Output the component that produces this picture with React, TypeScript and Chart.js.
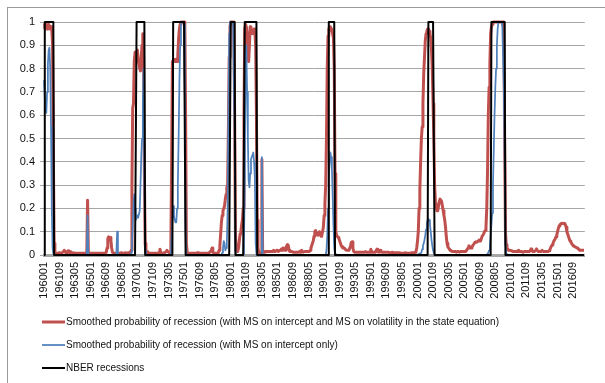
import React, { useEffect, useRef } from 'react';
import { Chart, registerables } from 'chart.js';

Chart.register(...registerables);

// Monthly categories 196001 .. 201712
const FIRST_YEAR = 1960;
const LAST_YEAR = 2017;
const MONTHS: string[] = [];
for (let y = FIRST_YEAR; y <= LAST_YEAR; y++) {
  for (let m = 1; m <= 12; m++) MONTHS.push(`${y}${m < 10 ? '0' + m : m}`);
}
const LABEL_EVERY = 20;

const LEGEND_LABELS = [
  'Smoothed probability of recession (with MS on intercept and MS on volatility in the state equation)',
  'Smoothed probability of recession (with MS on intercept only)',
  'NBER recessions',
];

// NBER recession months (first, last month with indicator = 1)
const NBER_PERIODS: [string, string][] = [
  ['196002', '196101'],
  ['196912', '197010'],
  ['197311', '197502'],
  ['198001', '198006'],
  ['198107', '198210'],
  ['199007', '199102'],
  ['200103', '200110'],
  ['200712', '200905'],
];

// Smoothed probability, MS on intercept and volatility (one row per year, Jan..Dec)
const RED_BY_YEAR: number[][] = [
  [0.97, 0.99, 0.98, 0.99, 0.97, 0.98, 0.99, 0.98, 0.97, 0.98, 0.97, 0.9], // 1960
  [0.45, 0.05, 0.01, 0.008, 0.008, 0.008, 0.008, 0.008, 0.01, 0.008, 0.008, 0.01],
  [0.012, 0.015, 0.02, 0.015, 0.01, 0.008, 0.01, 0.018, 0.012, 0.01, 0.015, 0.01],
  [0.008, 0.008, 0.01, 0.008, 0.008, 0.008, 0.008, 0.008, 0.008, 0.008, 0.008, 0.008],
  [0.008, 0.008, 0.008, 0.008, 0.008, 0.008, 0.008, 0.012, 0.235, 0.012, 0.008, 0.008],
  [0.008, 0.008, 0.008, 0.008, 0.008, 0.008, 0.008, 0.008, 0.008, 0.008, 0.008, 0.008], // 1965
  [0.008, 0.008, 0.008, 0.008, 0.008, 0.008, 0.008, 0.008, 0.012, 0.03, 0.07, 0.078],
  [0.07, 0.075, 0.06, 0.03, 0.012, 0.008, 0.008, 0.008, 0.008, 0.008, 0.01, 0.008],
  [0.008, 0.008, 0.008, 0.01, 0.008, 0.008, 0.008, 0.008, 0.008, 0.01, 0.008, 0.008],
  [0.01, 0.01, 0.01, 0.012, 0.02, 0.3, 0.63, 0.65, 0.83, 0.87, 0.85, 0.86],
  [0.88, 0.84, 0.82, 0.8, 0.79, 0.85, 0.9, 0.95, 0.85, 0.35, 0.05, 0.012], // 1970
  [0.01, 0.015, 0.01, 0.008, 0.008, 0.008, 0.008, 0.008, 0.008, 0.008, 0.008, 0.008],
  [0.008, 0.008, 0.008, 0.008, 0.012, 0.025, 0.012, 0.008, 0.008, 0.008, 0.008, 0.01],
  [0.012, 0.015, 0.02, 0.015, 0.012, 0.01, 0.012, 0.02, 0.4, 0.83, 0.83, 0.84],
  [0.83, 0.83, 0.84, 0.83, 0.86, 0.93, 0.97, 0.99, 1, 1, 1, 1],
  [1, 0.98, 0.6, 0.05, 0.01, 0.008, 0.008, 0.008, 0.008, 0.008, 0.008, 0.008], // 1975
  [0.008, 0.008, 0.008, 0.008, 0.008, 0.01, 0.01, 0.008, 0.008, 0.008, 0.008, 0.008],
  [0.008, 0.008, 0.008, 0.008, 0.008, 0.008, 0.008, 0.008, 0.01, 0.012, 0.015, 0.02],
  [0.03, 0.012, 0.008, 0.008, 0.008, 0.008, 0.008, 0.008, 0.01, 0.02, 0.04, 0.09],
  [0.14, 0.17, 0.19, 0.2, 0.21, 0.24, 0.26, 0.29, 0.3, 0.55, 0.85, 0.98],
  [1, 1, 1, 1, 0.98, 0.6, 0.1, 0.02, 0.015, 0.015, 0.03, 0.06], // 1980
  [0.09, 0.1, 0.13, 0.15, 0.2, 0.6, 0.97, 0.99, 0.98, 0.95, 0.88, 0.83],
  [0.9, 0.98, 0.97, 0.96, 0.95, 0.96, 0.97, 0.96, 0.9, 0.6, 0.15, 0.03],
  [0.012, 0.01, 0.01, 0.01, 0.41, 0.012, 0.012, 0.012, 0.015, 0.015, 0.015, 0.015],
  [0.015, 0.015, 0.015, 0.015, 0.015, 0.015, 0.015, 0.02, 0.015, 0.015, 0.015, 0.02],
  [0.02, 0.015, 0.015, 0.02, 0.02, 0.025, 0.02, 0.03, 0.03, 0.025, 0.02, 0.03], // 1985
  [0.04, 0.045, 0.04, 0.02, 0.015, 0.015, 0.015, 0.015, 0.012, 0.012, 0.012, 0.012],
  [0.012, 0.012, 0.012, 0.012, 0.015, 0.012, 0.015, 0.02, 0.015, 0.012, 0.012, 0.015],
  [0.015, 0.015, 0.015, 0.015, 0.015, 0.015, 0.02, 0.03, 0.04, 0.05, 0.06, 0.08],
  [0.1, 0.105, 0.095, 0.09, 0.085, 0.09, 0.1, 0.09, 0.08, 0.085, 0.1, 0.12],
  [0.17, 0.22, 0.3, 0.5, 0.8, 0.94, 0.97, 0.98, 0.98, 0.97, 0.96, 0.95], // 1990
  [0.93, 0.8, 0.35, 0.1, 0.085, 0.08, 0.075, 0.07, 0.06, 0.05, 0.04, 0.035],
  [0.03, 0.03, 0.03, 0.025, 0.025, 0.02, 0.02, 0.02, 0.02, 0.02, 0.04, 0.055],
  [0.057, 0.03, 0.015, 0.012, 0.012, 0.012, 0.012, 0.012, 0.012, 0.012, 0.012, 0.012],
  [0.012, 0.012, 0.012, 0.012, 0.012, 0.015, 0.012, 0.012, 0.012, 0.012, 0.012, 0.012],
  [0.025, 0.015, 0.012, 0.012, 0.012, 0.012, 0.012, 0.02, 0.025, 0.015, 0.012, 0.012], // 1995
  [0.02, 0.015, 0.012, 0.012, 0.012, 0.012, 0.012, 0.012, 0.012, 0.012, 0.012, 0.012],
  [0.01, 0.01, 0.01, 0.01, 0.012, 0.01, 0.01, 0.01, 0.01, 0.01, 0.01, 0.01],
  [0.01, 0.01, 0.008, 0.008, 0.008, 0.008, 0.008, 0.008, 0.01, 0.008, 0.008, 0.008],
  [0.008, 0.008, 0.008, 0.008, 0.01, 0.01, 0.01, 0.01, 0.01, 0.012, 0.015, 0.03],
  [0.06, 0.1, 0.2, 0.28, 0.4, 0.5, 0.55, 0.65, 0.78, 0.85, 0.92, 0.95], // 2000
  [0.96, 0.97, 0.97, 0.96, 0.95, 0.93, 0.88, 0.8, 0.65, 0.5, 0.3, 0.23],
  [0.21, 0.19, 0.19, 0.21, 0.23, 0.24, 0.24, 0.23, 0.21, 0.19, 0.17, 0.15],
  [0.12, 0.08, 0.05, 0.035, 0.03, 0.025, 0.02, 0.018, 0.016, 0.015, 0.015, 0.015],
  [0.015, 0.015, 0.012, 0.015, 0.015, 0.015, 0.012, 0.015, 0.015, 0.015, 0.015, 0.015],
  [0.015, 0.015, 0.015, 0.02, 0.025, 0.03, 0.04, 0.035, 0.03, 0.03, 0.035, 0.04], // 2005
  [0.045, 0.05, 0.055, 0.057, 0.055, 0.057, 0.06, 0.064, 0.06, 0.06, 0.07, 0.08],
  [0.08, 0.09, 0.1, 0.105, 0.12, 0.2, 0.36, 0.6, 0.72, 0.82, 0.95, 0.98],
  [0.99, 1, 1, 1, 1, 1, 1, 1, 1, 1, 1, 1],
  [1, 1, 1, 0.95, 0.5, 0.1, 0.045, 0.03, 0.025, 0.02, 0.02, 0.02],
  [0.02, 0.018, 0.016, 0.015, 0.015, 0.015, 0.015, 0.015, 0.015, 0.018, 0.02, 0.015], // 2010
  [0.015, 0.015, 0.015, 0.012, 0.012, 0.015, 0.015, 0.015, 0.015, 0.015, 0.015, 0.015],
  [0.015, 0.02, 0.026, 0.02, 0.015, 0.015, 0.015, 0.015, 0.02, 0.026, 0.02, 0.015],
  [0.015, 0.015, 0.015, 0.015, 0.02, 0.02, 0.015, 0.015, 0.015, 0.015, 0.015, 0.015],
  [0.015, 0.018, 0.022, 0.03, 0.038, 0.043, 0.05, 0.058, 0.064, 0.07, 0.078, 0.086],
  [0.1, 0.115, 0.125, 0.13, 0.133, 0.136, 0.136, 0.135, 0.134, 0.136, 0.13, 0.12], // 2015
  [0.1, 0.09, 0.08, 0.07, 0.06, 0.057, 0.05, 0.045, 0.04, 0.038, 0.036, 0.034],
  [0.032, 0.03, 0.028, 0.025, 0.022, 0.02, 0.02, 0.02, 0.02, 0.02, 0.02, 0.02],
];

// Smoothed probability, MS on intercept only (one row per year, Jan..Dec)
const BLUE_BY_YEAR: number[][] = [
  [0.75, 0.68, 0.62, 0.61, 0.7, 0.82, 0.88, 0.89, 0.8, 0.55, 0.2, 0.03], // 1960
  [0.005, 0.002, 0, 0, 0, 0, 0, 0, 0, 0, 0, 0],
  [0, 0, 0, 0, 0, 0, 0, 0, 0, 0, 0, 0],
  [0, 0, 0, 0, 0, 0, 0, 0, 0, 0, 0, 0],
  [0, 0, 0, 0, 0, 0, 0, 0.005, 0.17, 0.005, 0, 0],
  [0, 0, 0, 0, 0, 0, 0, 0, 0, 0, 0, 0], // 1965
  [0, 0, 0, 0, 0, 0, 0, 0, 0, 0, 0, 0],
  [0, 0, 0, 0, 0, 0, 0, 0, 0, 0.005, 0.1, 0.005],
  [0, 0, 0, 0, 0, 0, 0, 0, 0, 0, 0, 0],
  [0, 0, 0, 0, 0.01, 0.05, 0.12, 0.22, 0.26, 0.2, 0.15, 0.16],
  [0.17, 0.16, 0.16, 0.19, 0.3, 0.42, 0.5, 0.65, 0.8, 0.3, 0.02, 0], // 1970
  [0, 0, 0, 0, 0, 0, 0, 0, 0, 0, 0, 0],
  [0, 0, 0, 0, 0, 0, 0, 0, 0, 0, 0, 0],
  [0, 0, 0, 0, 0, 0, 0, 0.01, 0.08, 0.15, 0.21, 0.17],
  [0.15, 0.14, 0.14, 0.2, 0.3, 0.5, 0.74, 0.9, 0.99, 1, 1, 1],
  [0.99, 0.7, 0.1, 0.005, 0, 0, 0, 0, 0, 0, 0, 0], // 1975
  [0, 0, 0, 0, 0, 0, 0, 0, 0, 0, 0, 0],
  [0, 0, 0, 0, 0, 0, 0, 0, 0, 0, 0, 0],
  [0, 0, 0, 0, 0, 0, 0, 0, 0, 0, 0, 0],
  [0, 0.01, 0.03, 0.06, 0.05, 0.02, 0.03, 0.05, 0.2, 0.6, 0.95, 1],
  [1, 1, 1, 1, 1, 0.5, 0.02, 0, 0, 0, 0, 0], // 1980
  [0, 0, 0, 0, 0.005, 0.05, 0.3, 0.85, 0.9, 0.7, 0.5, 0.32],
  [0.29, 0.35, 0.41, 0.42, 0.43, 0.44, 0.4, 0.33, 0.05, 0.005, 0, 0],
  [0, 0, 0, 0, 0.42, 0, 0, 0, 0, 0, 0, 0],
  [0, 0, 0, 0, 0, 0, 0, 0, 0, 0, 0, 0],
  [0, 0, 0, 0, 0, 0, 0, 0, 0, 0, 0, 0], // 1985
  [0, 0, 0, 0, 0, 0, 0, 0, 0, 0, 0, 0],
  [0, 0, 0, 0, 0, 0, 0, 0, 0, 0, 0, 0],
  [0, 0, 0, 0, 0, 0, 0, 0, 0, 0, 0, 0],
  [0, 0, 0, 0, 0, 0, 0, 0, 0, 0, 0, 0],
  [0, 0, 0, 0.02, 0.08, 0.2, 0.33, 0.4, 0.44, 0.42, 0.37, 0.25], // 1990
  [0.13, 0.03, 0.005, 0, 0, 0, 0, 0, 0, 0, 0, 0],
  [0, 0, 0, 0, 0, 0, 0, 0, 0, 0, 0, 0],
  [0, 0, 0, 0, 0, 0, 0, 0, 0, 0, 0, 0],
  [0, 0, 0, 0, 0, 0, 0, 0, 0, 0, 0, 0],
  [0, 0, 0, 0, 0, 0, 0, 0, 0, 0, 0, 0], // 1995
  [0, 0, 0, 0, 0, 0, 0, 0, 0, 0, 0, 0],
  [0, 0, 0, 0, 0, 0, 0, 0, 0, 0, 0, 0],
  [0, 0, 0, 0, 0, 0, 0, 0, 0, 0, 0, 0],
  [0, 0, 0, 0, 0, 0, 0, 0, 0, 0, 0, 0],
  [0, 0.003, 0.005, 0.006, 0.008, 0.01, 0.025, 0.04, 0.05, 0.065, 0.085, 0.11], // 2000
  [0.135, 0.15, 0.155, 0.15, 0.13, 0.1, 0.065, 0.04, 0.02, 0.008, 0.003, 0],
  [0, 0, 0, 0, 0, 0, 0, 0, 0, 0, 0, 0],
  [0, 0, 0, 0, 0, 0, 0, 0, 0, 0, 0, 0],
  [0, 0, 0, 0, 0, 0, 0, 0, 0, 0, 0, 0],
  [0, 0, 0, 0, 0, 0, 0, 0, 0, 0, 0, 0], // 2005
  [0, 0, 0, 0, 0, 0, 0, 0, 0, 0, 0, 0],
  [0, 0, 0, 0, 0, 0, 0.005, 0.01, 0.02, 0.04, 0.08, 0.13],
  [0.18, 0.3, 0.45, 0.6, 0.72, 0.8, 0.9, 0.97, 1, 1, 1, 1],
  [1, 0.98, 0.85, 0.7, 0.4, 0.05, 0.005, 0, 0, 0, 0, 0],
  [0, 0, 0, 0, 0, 0, 0, 0, 0, 0, 0, 0], // 2010
  [0, 0, 0, 0, 0, 0, 0, 0, 0, 0, 0, 0],
  [0, 0, 0, 0, 0, 0, 0, 0, 0, 0, 0, 0],
  [0, 0, 0, 0, 0, 0, 0, 0, 0, 0, 0, 0],
  [0, 0, 0, 0, 0, 0, 0, 0, 0, 0, 0, 0],
  [0, 0, 0, 0, 0, 0, 0, 0, 0, 0, 0, 0], // 2015
  [0, 0, 0, 0, 0, 0, 0, 0, 0, 0, 0, 0],
  [0, 0, 0, 0, 0, 0, 0, 0, 0, 0, 0, 0],
];

const RED = RED_BY_YEAR.flat();
const BLUE = BLUE_BY_YEAR.flat();
const NBER = MONTHS.map((mo) => (NBER_PERIODS.some(([a, b]) => mo >= a && mo <= b) ? 1 : 0));

const COLORS = ['#C0504D', '#4F81BD', '#000000'];
const WIDTHS = [3, 1.75, 2];

const W = 598;
const H = 376;

const framePlugin = {
  id: 'frame',
  beforeDraw(chart: any) {
    const ctx = chart.ctx;
    ctx.save();
    ctx.fillStyle = '#ffffff';
    ctx.fillRect(0, 0, chart.width, chart.height);
    ctx.strokeStyle = '#9a9a9a';
    ctx.lineWidth = 1;
    ctx.strokeRect(0.5, 0.5, chart.width + 2, chart.height + 2);
    ctx.restore();
  },
};

const legendPlugin = {
  id: 'stackedLegend',
  afterDraw(chart: any) {
    const ctx = chart.ctx;
    ctx.save();
    ctx.font = '10px "Liberation Sans Narrow", "Liberation Sans", sans-serif';
    ctx.textBaseline = 'middle';
    ctx.textAlign = 'left';
    const rows = [315, 338, 361];
    LEGEND_LABELS.forEach((txt, i) => {
      const y = rows[i];
      ctx.strokeStyle = COLORS[i];
      ctx.lineWidth = WIDTHS[i];
      ctx.beginPath();
      ctx.moveTo(35, y);
      ctx.lineTo(58, y);
      ctx.stroke();
      ctx.fillStyle = '#111111';
      ctx.fillText(txt, 59, y + 0.5);
    });
    ctx.restore();
  },
};

export default function App() {
  const ref = useRef<HTMLCanvasElement | null>(null);
  useEffect(() => {
    if (!ref.current) return;
    const tickFont = { family: '"Liberation Sans", Arial, sans-serif', size: 11 };
    const chart = new Chart(ref.current, {
      type: 'line',
      data: {
        labels: MONTHS,
        datasets: [
          { label: LEGEND_LABELS[0], data: RED, borderColor: COLORS[0], borderWidth: WIDTHS[0], pointRadius: 0, order: 3, clip: 6 } as any,
          { label: LEGEND_LABELS[1], data: BLUE, borderColor: COLORS[1], borderWidth: WIDTHS[1], pointRadius: 0, order: 2, clip: 6 } as any,
          { label: LEGEND_LABELS[2], data: NBER, borderColor: COLORS[2], borderWidth: WIDTHS[2], pointRadius: 0, order: 1, clip: 6 } as any,
        ],
      },
      options: {
        responsive: false,
        animation: false,
        events: [],
        layout: { padding: { top: 15, right: 6, left: 0, bottom: 0 } },
        elements: { line: { tension: 0, borderJoinStyle: 'round' } },
        plugins: { legend: { display: false }, tooltip: { enabled: false } },
        scales: {
          x: {
            type: 'category',
            offset: false,
            grid: { display: false, drawTicks: false },
            border: { display: true, color: '#A6A6A6', width: 3 },
            ticks: {
              autoSkip: false,
              maxRotation: 90,
              minRotation: 90,
              padding: 7,
              color: '#111111',
              font: tickFont,
              callback: (_v: any, i: number) => (i % LABEL_EVERY === 0 ? MONTHS[i] : ''),
            },
            afterFit: (s: any) => {
              s.height = 128;
            },
          },
          y: {
            min: 0,
            max: 1,
            ticks: {
              stepSize: 0.1,
              padding: 5,
              color: '#111111',
              font: tickFont,
              callback: (v: any) => String(Number(Number(v).toFixed(1))),
            },
            grid: { color: '#A6A6A6', lineWidth: 1, tickLength: 4, drawTicks: true },
            border: { display: false },
            afterFit: (s: any) => {
              s.width = 37;
            },
          },
        },
      } as any,
      plugins: [framePlugin, legendPlugin],
    });
    return () => chart.destroy();
  }, []);

  return (
    <div style={{ position: 'fixed', left: 0, top: 0, width: 605, height: 383, overflow: 'hidden', background: '#fff' }}>
      <canvas ref={ref} width={W} height={H} style={{ position: 'absolute', left: 7, top: 7, width: W, height: H }} />
    </div>
  );
}
